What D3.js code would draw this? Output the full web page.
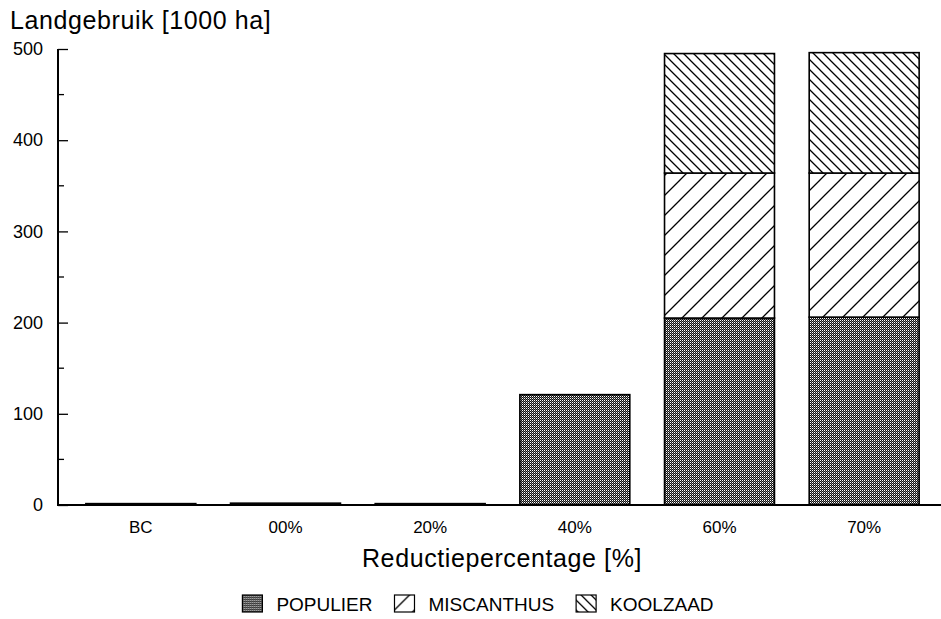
<!DOCTYPE html>
<html>
<head>
<meta charset="utf-8">
<script src="https://cdn.jsdelivr.net/npm/d3@7/dist/d3.min.js"></script>
<style>
  body { margin: 0; background: #fff; }
  svg { display: block; font-family: "Liberation Sans", Arial, sans-serif; }
</style>
</head>
<body>
<svg id="chart" width="941" height="619"></svg>
<script>
// gegevens
var categorieen = ["BC", "00%", "20%", "40%", "60%", "70%"];
var populier   = [1.5, 2, 1.5, 121, 205, 206];
var miscanthus = [0, 0, 0, 0, 159, 158];
var koolzaad   = [0, 0, 0, 0, 131, 132];
var gewassen = ["POPULIER", "MISCANTHUS", "KOOLZAAD"];
var yTicks = [0, 100, 200, 300, 400, 500];
var yMinorTicks = [50, 150, 250, 350, 450];

var svg = d3.select("#chart");

var xScale = d3.scaleBand()
  .domain(categorieen)
  .range([68.5, 936.5])
  .paddingInner(0.24)
  .paddingOuter(0.12);

var yScale = d3.scaleLinear()
  .domain([0, 500])
  .range([505, 49]);

//------------------------------------------------ patronen
var defs = svg.append("defs");

// populier: fijn gespikkeld raster
var pPop = defs.append("pattern")
  .attr("id", "pat-populier")
  .attr("patternUnits", "userSpaceOnUse")
  .attr("width", 4).attr("height", 4);
pPop.append("rect").attr("width", 4).attr("height", 4).attr("fill", "#111");
[[0, 0], [2, 0], [0, 2], [2, 2]].forEach(function(p) {
  pPop.append("rect").attr("x", p[0]).attr("y", p[1])
    .attr("width", 1).attr("height", 1).attr("fill", "#fff");
});
[[1, 1], [3, 3], [1, 3], [3, 1]].forEach(function(p) {
  pPop.append("rect").attr("x", p[0]).attr("y", p[1])
    .attr("width", 1).attr("height", 1).attr("fill", "#777");
});

// schuine lijnen, "/" of "\"
function diagonaal(id, s, richting) {
  var pat = defs.append("pattern")
    .attr("id", id)
    .attr("patternUnits", "userSpaceOnUse")
    .attr("width", s).attr("height", s);
  pat.append("rect").attr("width", s).attr("height", s).attr("fill", "#fff");
  var d;
  if (richting == "/") {
    d = "M0," + s + " l" + s + "," + (-s) +
        " M" + (-s / 4) + "," + (s / 4) + " l" + (s / 2) + "," + (-s / 2) +
        " M" + (3 * s / 4) + "," + (5 * s / 4) + " l" + (s / 2) + "," + (-s / 2);
  } else {
    d = "M0,0 l" + s + "," + s +
        " M" + (-s / 4) + "," + (3 * s / 4) + " l" + (s / 2) + "," + (s / 2) +
        " M" + (3 * s / 4) + "," + (-s / 4) + " l" + (s / 2) + "," + (s / 2);
  }
  pat.append("path").attr("d", d)
    .attr("stroke", "#000").attr("stroke-width", 1.3).attr("fill", "none");
}
diagonaal("pat-miscanthus", 20, "/");
diagonaal("pat-koolzaad", 10, "\\");

var vullingen = ["url(#pat-populier)", "url(#pat-miscanthus)", "url(#pat-koolzaad)"];

//------------------------------------------------ staven
var rijen = categorieen.map(function(c, i) {
  return { cat: c, POPULIER: populier[i], MISCANTHUS: miscanthus[i], KOOLZAAD: koolzaad[i] };
});
var stapels = d3.stack().keys(gewassen)(rijen);

stapels.forEach(function(laag, k) {
  svg.append("g").selectAll("rect")
    .data(laag.filter(function(d) { return d[1] - d[0] > 0; }))
    .enter()
    .append("rect")
    .attr("x", function(d) { return xScale(d.data.cat); })
    .attr("y", function(d) { return yScale(d[1]); })
    .attr("width", xScale.bandwidth())
    .attr("height", function(d) { return yScale(d[0]) - yScale(d[1]); })
    .attr("fill", vullingen[k])
    .attr("stroke", "#000")
    .attr("stroke-width", 1.6);
});

//------------------------------------------------ assen
var yAxis = d3.axisLeft(yScale)
  .tickValues(yTicks)
  .tickSize(-10)
  .tickPadding(15)
  .tickFormat(d3.format("d"));

var gy = svg.append("g")
  .attr("transform", "translate(58,0)")
  .call(yAxis);
gy.select(".domain").remove();
gy.selectAll(".tick line").attr("stroke-width", 1.3);
gy.selectAll(".tick text")
  .attr("font-size", 18)
  .attr("font-family", "Liberation Sans, Arial, sans-serif")
  .attr("fill", "#000");

gy.selectAll(".minor")
  .data(yMinorTicks)
  .enter()
  .append("line")
  .attr("x1", 0).attr("x2", 6)
  .attr("y1", function(d) { return yScale(d); })
  .attr("y2", function(d) { return yScale(d); })
  .attr("stroke", "#000").attr("stroke-width", 1.3);

svg.append("line")
  .attr("x1", 58).attr("x2", 58)
  .attr("y1", yScale(500)).attr("y2", yScale(0))
  .attr("stroke", "#000").attr("stroke-width", 2);

svg.append("line")
  .attr("x1", 57).attr("x2", 941)
  .attr("y1", yScale(0)).attr("y2", yScale(0))
  .attr("stroke", "#000").attr("stroke-width", 2);

var xAxis = d3.axisBottom(xScale).tickSize(0).tickPadding(16);
var gx = svg.append("g")
  .attr("transform", "translate(0," + yScale(0) + ")")
  .call(xAxis);
gx.select(".domain").remove();
gx.selectAll(".tick text")
  .attr("font-size", 17)
  .attr("font-family", "Liberation Sans, Arial, sans-serif")
  .attr("fill", "#000");

// titels
svg.append("text")
  .attr("x", 10).attr("y", 29)
  .attr("font-size", 25)
  .attr("letter-spacing", 0.6)
  .text("Landgebruik [1000 ha]");

svg.append("text")
  .attr("x", 502).attr("y", 567)
  .attr("text-anchor", "middle")
  .attr("font-size", 25)
  .attr("letter-spacing", 0.6)
  .text("Reductiepercentage [%]");

//------------------------------------------------ legenda
var legenda = svg.append("g");
var lx = 0;
gewassen.forEach(function(g, k) {
  var item = legenda.append("g").attr("transform", "translate(" + lx + ",0)");
  item.append("rect")
    .attr("x", 0).attr("y", -15)
    .attr("width", 20).attr("height", 17)
    .attr("fill", vullingen[k])
    .attr("stroke", "#000").attr("stroke-width", 1.2);
  var t = item.append("text")
    .attr("x", 34).attr("y", 1)
    .attr("font-size", 19)
    .text(g);
  lx += 34 + t.node().getComputedTextLength() + 22;
});
legenda.attr("transform", "translate(" + (478 - (lx - 22) / 2) + ",610)");
</script>
</body>
</html>
